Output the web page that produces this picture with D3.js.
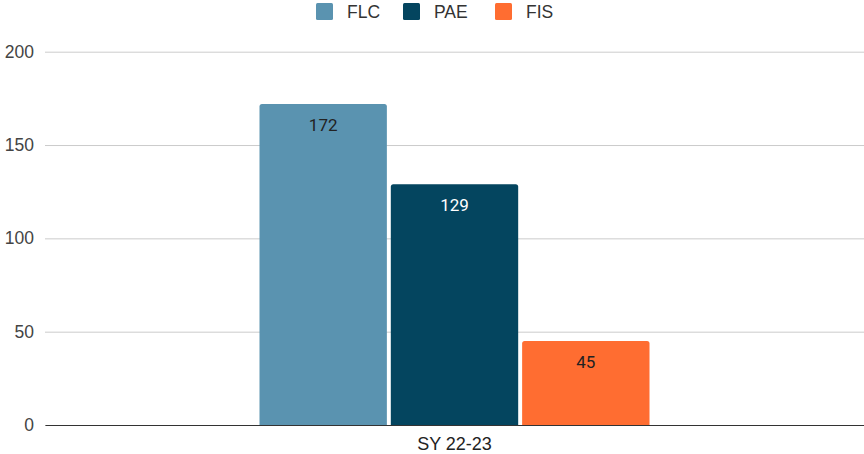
<!DOCTYPE html>
<html>
<head>
<meta charset="utf-8">
<script src="https://cdn.jsdelivr.net/npm/d3@7"></script>
<style>
  body { margin: 0; background: #fff; }
  svg { display: block; }
</style>
</head>
<body>
<script>
let categories = ['SY 22-23'];
let seriesNames = ['FLC', 'PAE', 'FIS'];
let seriesValues = [[172], [129], [45]];
let seriesColors = ['#5a93b0', '#04455f', '#ff6d31'];
let labelColors = ['#222222', '#ffffff', '#222222'];
let yTicks = [0, 50, 100, 150, 200];

let width = 864, height = 454;
let margin = { top: 51.7, right: 0, bottom: 29, left: 45 };

let svg = d3.select('body').append('svg')
    .attr('width', width)
    .attr('height', height);

let yScale = d3.scaleLinear().domain([0, 200]).range([height - margin.bottom, margin.top]);
let xScale = d3.scaleBand().domain(categories).range([margin.left, width - margin.right])
    .paddingInner(0).paddingOuter(0.55);
let subScale = d3.scaleBand().domain(seriesNames).range([0, xScale.bandwidth()]).paddingInner(0.03);

// gridlines
let yAxis = d3.axisLeft(yScale).tickValues(yTicks).tickSize(-(width - margin.left - margin.right)).tickPadding(11);
let yAxisGroup = svg.append('g')
    .attr('transform', `translate(${margin.left}, 0)`)
    .call(yAxis);
yAxisGroup.select('.domain').remove();
yAxisGroup.selectAll('.tick line').attr('stroke', '#cccccc');
yAxisGroup.selectAll('.tick text')
    .attr('font-family', 'Liberation Sans, Arial, sans-serif')
    .attr('font-size', 17.5)
    .attr('fill', '#444');

// bars
let data = [];
seriesNames.forEach((name, i) => {
    categories.forEach((cat, j) => {
        data.push({ name: name, cat: cat, value: seriesValues[i][j], i: i });
    });
});

let r = 2.5;
let barPath = d => {
    let x0 = xScale(d.cat) + subScale(d.name);
    let w = subScale.bandwidth();
    let y0 = yScale(d.value), y1 = yScale(0);
    return `M${x0},${y1}V${y0 + r}Q${x0},${y0} ${x0 + r},${y0}H${x0 + w - r}Q${x0 + w},${y0} ${x0 + w},${y0 + r}V${y1}Z`;
};

svg.selectAll('path.bar')
    .data(data)
    .enter()
    .append('path')
    .attr('class', 'bar')
    .attr('d', barPath)
    .attr('fill', d => seriesColors[d.i]);

svg.selectAll('text.val')
    .data(data)
    .enter()
    .append('text')
    .attr('class', 'val')
    .attr('x', d => xScale(d.cat) + subScale(d.name) + subScale.bandwidth() / 2)
    .attr('y', d => yScale(d.value) + 27)
    .attr('text-anchor', 'middle')
    .attr('font-family', 'Roboto, sans-serif')
    .attr('font-size', 17)
    .attr('fill', d => labelColors[d.i])
    .text(d => d.value);

// baseline + category axis
let xAxis = d3.axisBottom(xScale).tickSize(0).tickPadding(12);
let xAxisGroup = svg.append('g')
    .attr('transform', `translate(0, ${yScale(0)})`)
    .call(xAxis);
xAxisGroup.select('.domain').attr('stroke', '#333').attr('stroke-width', 1.2);
xAxisGroup.selectAll('.tick text')
    .attr('font-family', 'Liberation Sans, Arial, sans-serif')
    .attr('font-size', 18)
    .attr('fill', '#222');

// legend
let legendX = [316, 403, 495];
let legend = svg.append('g');
let items = legend.selectAll('g')
    .data(seriesNames)
    .enter()
    .append('g')
    .attr('transform', (d, i) => `translate(${legendX[i]}, 3)`);
items.append('rect')
    .attr('width', 17)
    .attr('height', 17)
    .attr('rx', 1.5)
    .attr('fill', (d, i) => seriesColors[i]);
items.append('text')
    .attr('x', 31)
    .attr('y', 15)
    .attr('font-family', 'Liberation Sans, Arial, sans-serif')
    .attr('font-size', 17.5)
    .attr('fill', '#333')
    .text(d => d);
</script>
</body>
</html>
